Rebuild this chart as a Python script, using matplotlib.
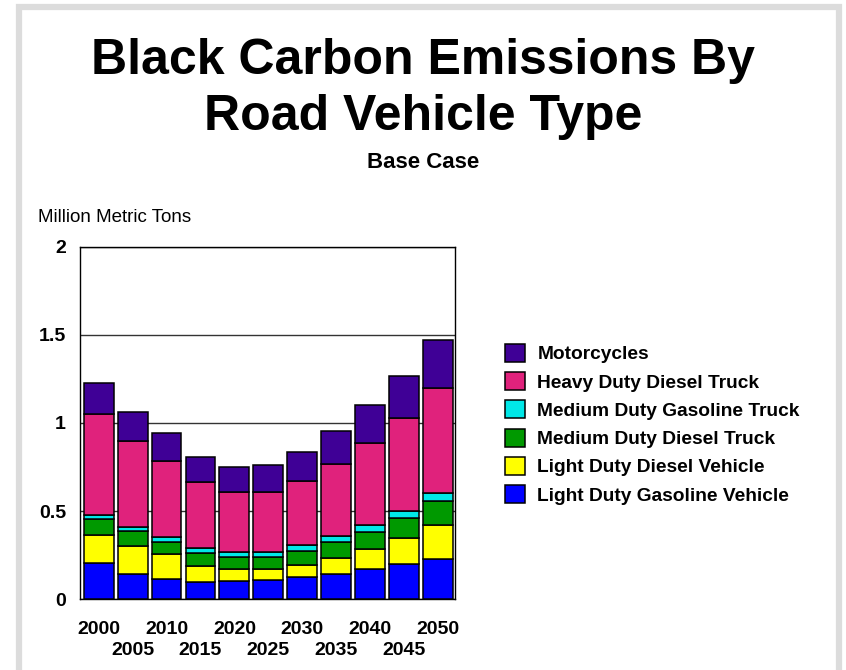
import matplotlib
matplotlib.use("Agg")
import matplotlib.pyplot as plt
from matplotlib.patches import Rectangle
import numpy as np

plt.rcParams['font.family'] = ['Liberation Sans', 'DejaVu Sans']

years = ['2000', '2005', '2010', '2015', '2020', '2025', '2030', '2035', '2040', '2045', '2050']

light_gas = [0.204, 0.142, 0.115, 0.096, 0.104, 0.109, 0.128, 0.142, 0.172, 0.202, 0.227]
light_diesel = [0.161, 0.160, 0.140, 0.095, 0.068, 0.061, 0.068, 0.091, 0.112, 0.144, 0.193]
med_diesel = [0.089, 0.085, 0.072, 0.073, 0.066, 0.072, 0.076, 0.090, 0.099, 0.113, 0.138]
med_gas = [0.024, 0.025, 0.028, 0.025, 0.032, 0.026, 0.034, 0.034, 0.040, 0.044, 0.047]
heavy_diesel = [0.575, 0.488, 0.429, 0.374, 0.337, 0.339, 0.367, 0.412, 0.465, 0.524, 0.596]
motorcycles = [0.172, 0.164, 0.157, 0.146, 0.145, 0.153, 0.162, 0.186, 0.214, 0.241, 0.270]

series = [
    ('Light Duty Gasoline Vehicle', light_gas, '#0000ff'),
    ('Light Duty Diesel Vehicle', light_diesel, '#ffff00'),
    ('Medium Duty Diesel Truck', med_diesel, '#009900'),
    ('Medium Duty Gasoline Truck', med_gas, '#00e8e8'),
    ('Heavy Duty Diesel Truck', heavy_diesel, '#e0227c'),
    ('Motorcycles', motorcycles, '#3f0096'),
]

W, H = 846, 670
fig = plt.figure(figsize=(W / 100, H / 100), dpi=100)

def fy(py):
    return (H - py) / H

# outer gray frame
fig.patches.append(Rectangle((19 / W, -0.05), (839 - 19) / W, fy(7) + 0.05,
                             transform=fig.transFigure, fill=False,
                             edgecolor='#dcdcdc', linewidth=4.5, zorder=0))

ax = fig.add_axes([80 / W, fy(599.3), (455 - 80) / W, (599.3 - 246.7) / H])

x = np.arange(len(years))
bottom = np.zeros(len(years))
handles = []
for name, vals, col in series:
    b = ax.bar(x, vals, width=0.88, bottom=bottom, color=col, edgecolor='black',
               linewidth=1.1, label=name, zorder=3)
    handles.append(b)
    bottom = bottom + np.array(vals)

ax.set_xlim(-0.55, 10.5)
ax.set_ylim(0, 2)
ax.set_yticks([0, 0.5, 1, 1.5, 2])
ax.set_yticklabels(['0', '0.5', '1', '1.5', '2'], fontweight='bold', fontsize=14)

major = x[::2]
minor = x[1::2]
ax.set_xticks(major)
ax.set_xticklabels([years[i] for i in major], fontweight='bold', fontsize=14)
ax.set_xticks(minor, minor=True)
ax.set_xticklabels([years[i] for i in minor], minor=True, fontweight='bold', fontsize=14)
ax.tick_params(axis='both', which='both', length=0)
ax.tick_params(axis='y', pad=10)
ax.tick_params(axis='x', which='major', pad=15.3)
ax.tick_params(axis='x', which='minor', pad=31)
ax.yaxis.grid(True, color='#333333', linewidth=1.0, zorder=0)
ax.set_axisbelow(True)
for s in ax.spines.values():
    s.set_color('black')
    s.set_linewidth(1.0)

fig.text(0.5, fy(73.5), 'Black Carbon Emissions By', ha='center', va='baseline',
         fontsize=36, fontweight='bold')
fig.text(0.5, fy(130), 'Road Vehicle Type', ha='center', va='baseline',
         fontsize=36, fontweight='bold')
fig.text(0.5, fy(167.5), 'Base Case', ha='center', va='baseline', fontsize=16, fontweight='bold')
fig.text(38 / W, fy(222), 'Million Metric Tons', ha='left', va='baseline', fontsize=13.5)

leg = fig.legend(handles[::-1], [s[0] for s in series][::-1], loc='upper left',
                 bbox_to_anchor=(505 / W, fy(344)), frameon=False, borderpad=0,
                 prop={'weight': 'bold', 'size': 13.8}, handlelength=1.05, handleheight=1.05,
                 handletextpad=0.64, labelspacing=0.46, borderaxespad=0)

fig.savefig('out.png', dpi=100)
